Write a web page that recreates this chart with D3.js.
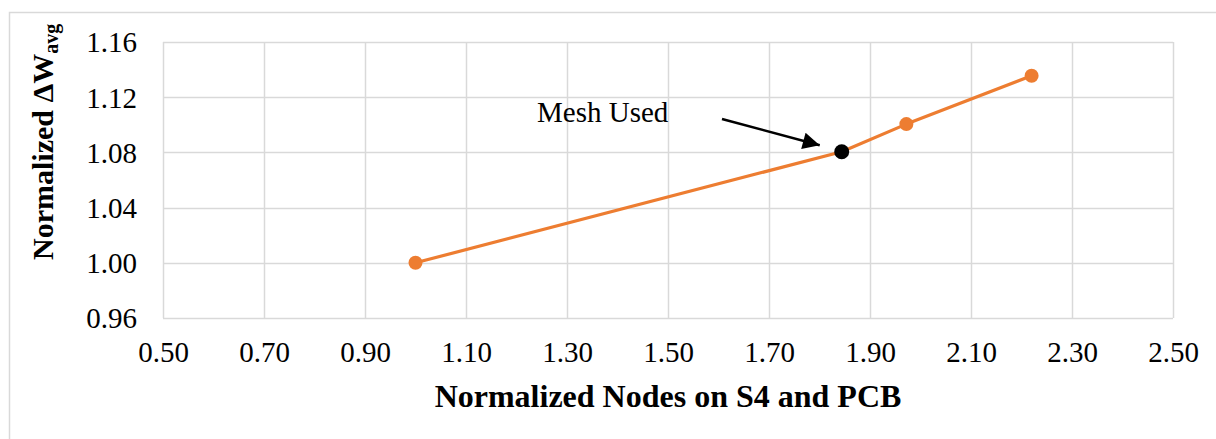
<!DOCTYPE html>
<html>
<head>
<meta charset="utf-8">
<script src="https://cdn.jsdelivr.net/npm/d3@7"></script>
<style>
  html, body { margin: 0; padding: 0; background: #fff; }
  svg { display: block; }
  text { font-family: "Liberation Serif", "Times New Roman", serif; fill: #000; }
</style>
</head>
<body>
<svg id="chart" width="1216" height="439"></svg>
<script>
// Mesh convergence: normalized node count vs normalized ΔW_avg
const nodes = [1.00, 1.844, 1.972, 2.220];
const deltaW = [1.000, 1.0805, 1.1005, 1.1355];
const meshUsedIndex = 1;
const meshLabel = "Mesh Used";

const xTicks = [0.50, 0.70, 0.90, 1.10, 1.30, 1.50, 1.70, 1.90, 2.10, 2.30, 2.50];
const yTicks = [0.96, 1.00, 1.04, 1.08, 1.12, 1.16];

const xTitle = "Normalized Nodes on S4 and PCB";

const svg = d3.select("#chart");

// outer chart frame
svg.append("rect")
  .attr("x", 9.5).attr("y", 12.5)
  .attr("width", 1300).attr("height", 500)
  .attr("fill", "#fff").attr("stroke", "#D9D9D9").attr("stroke-width", 1.5);

const plot = { left: 163, right: 1173, top: 42, bottom: 318 };

const x = d3.scaleLinear().domain([0.5, 2.5]).range([plot.left, plot.right]);
const y = d3.scaleLinear().domain([0.96, 1.16]).range([plot.bottom, plot.top]);

// gridlines
const grid = svg.append("g").attr("stroke", "#D9D9D9").attr("stroke-width", 1.5);
grid.selectAll(".vx").data(xTicks).join("line")
  .attr("x1", d => Math.round(x(d)) + 0.5).attr("x2", d => Math.round(x(d)) + 0.5)
  .attr("y1", plot.top).attr("y2", plot.bottom);
grid.selectAll(".hy").data(yTicks).join("line")
  .attr("y1", d => Math.round(y(d)) + 0.5).attr("y2", d => Math.round(y(d)) + 0.5)
  .attr("x1", plot.left).attr("x2", plot.right);

// axes (labels only)
const xAxis = d3.axisBottom(x).tickValues(xTicks).tickFormat(d3.format(".2f")).tickSize(0).tickPadding(0);
const gx = svg.append("g").attr("transform", `translate(0,${plot.bottom})`).call(xAxis);
gx.select(".domain").remove();
gx.selectAll("text")
  .attr("y", 44).attr("dy", 0)
  .style("font-size", "29px").style("font-family", "Liberation Serif, serif").attr("fill", "#000");

const yAxis = d3.axisLeft(y).tickValues(yTicks).tickFormat(d3.format(".2f")).tickSize(0).tickPadding(0);
const gy = svg.append("g").attr("transform", `translate(${plot.left - 26},0)`).call(yAxis);
gy.select(".domain").remove();
gy.selectAll("text")
  .attr("x", 0).attr("dy", "0.34em")
  .style("font-size", "29px").style("font-family", "Liberation Serif, serif").attr("fill", "#000");

// axis titles
svg.append("text")
  .attr("x", (plot.left + plot.right) / 2).attr("y", 407)
  .attr("text-anchor", "middle")
  .style("font-size", "32px").style("font-weight", "bold")
  .text(xTitle);

const yt = svg.append("text")
  .attr("transform", "translate(53,260) rotate(-90)")
  .attr("text-anchor", "start")
  .style("font-size", "30px").style("font-weight", "bold");
yt.append("tspan").text("Normalized ΔW");
yt.append("tspan").attr("dy", 5).style("font-size", "20px").text("avg");

// series line
const pts = nodes.map((n, i) => [n, deltaW[i]]);
svg.append("path")
  .datum(pts)
  .attr("fill", "none").attr("stroke", "#ED7D31").attr("stroke-width", 3.2)
  .attr("stroke-linejoin", "round")
  .attr("d", d3.line().x(d => x(d[0])).y(d => y(d[1])));

svg.selectAll(".pt").data(pts).join("circle")
  .attr("cx", d => x(d[0])).attr("cy", d => y(d[1]))
  .attr("r", (d, i) => i === meshUsedIndex ? 7.5 : 7)
  .attr("fill", (d, i) => i === meshUsedIndex ? "#000" : "#ED7D31");

// annotation arrow
const defs = svg.append("defs");
defs.append("marker")
  .attr("id", "arrowhead").attr("viewBox", "0 0 10 10")
  .attr("refX", 10).attr("refY", 5)
  .attr("markerWidth", 7.5).attr("markerHeight", 6.5)
  .attr("markerUnits", "strokeWidth")
  .attr("orient", "auto")
  .append("path").attr("d", "M0,0 L10,5 L0,10 Z").attr("fill", "#000");

const mx = x(nodes[meshUsedIndex]), my = y(deltaW[meshUsedIndex]);
svg.append("line")
  .attr("x1", 722).attr("y1", 119)
  .attr("x2", mx - 22).attr("y2", my - 6.5)
  .attr("stroke", "#000").attr("stroke-width", 2.6)
  .attr("marker-end", "url(#arrowhead)");

svg.append("text")
  .attr("x", 537).attr("y", 122)
  .style("font-size", "29px")
  .text(meshLabel);
</script>
</body>
</html>
